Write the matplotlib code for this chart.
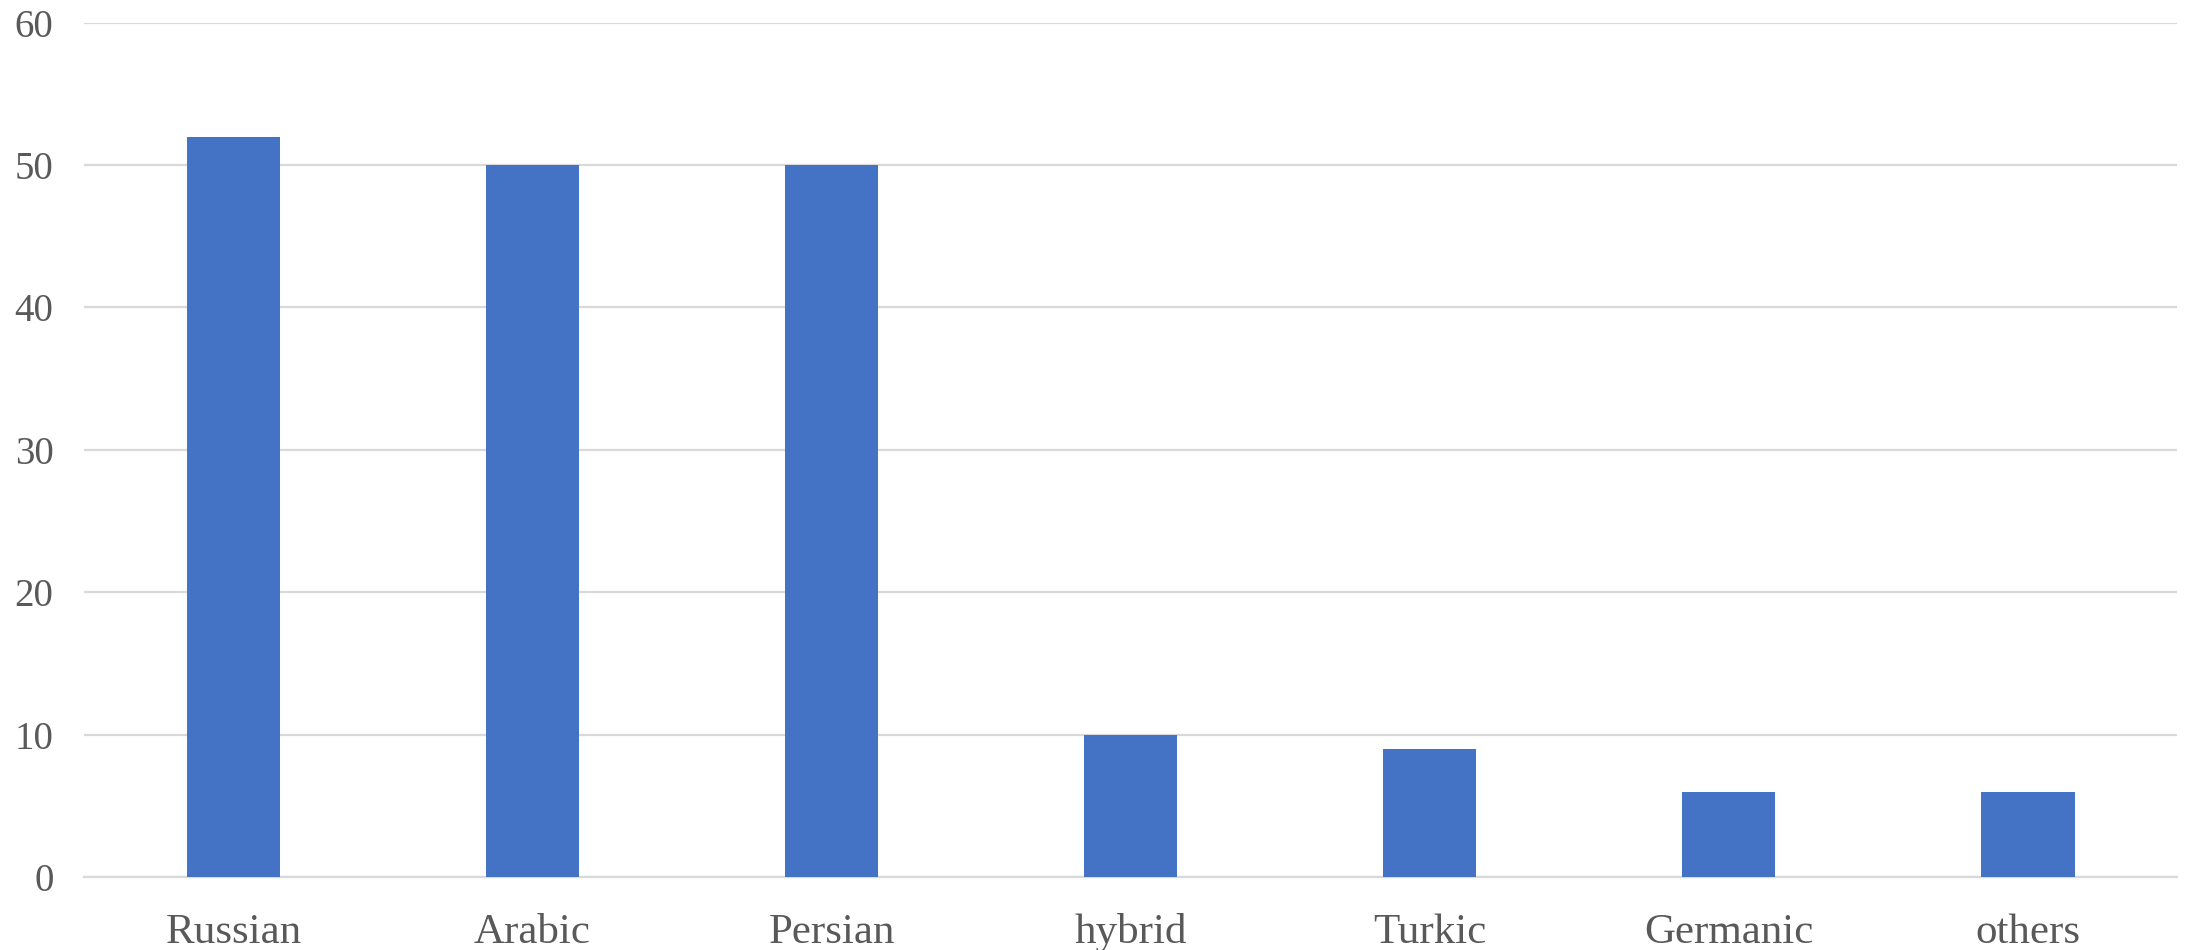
import matplotlib
matplotlib.use("Agg")
import matplotlib.pyplot as plt

categories = ["Russian", "Arabic", "Persian", "hybrid", "Turkic", "Germanic", "others"]
values = [52, 50, 50, 10, 9, 6, 6]
yticks = [0, 10, 20, 30, 40, 50, 60]

plt.rcParams['font.family'] = ['Liberation Serif', 'DejaVu Serif']

fig = plt.figure(figsize=(21.88, 9.5), dpi=100)
ax = fig.add_axes([0.0384, 0.0768, 0.9566, 0.8993])

x = list(range(len(categories)))
ax.bar(x, values, width=0.314, color="#4472C4", zorder=3)

ax.set_xlim(-0.5, len(categories) - 0.5)
ax.set_ylim(0, 60)
ax.set_yticks(yticks)
ax.set_xticks(x)
ax.set_xticklabels(categories)
ax.yaxis.grid(True, color="#D9D9D9", linewidth=1.6, zorder=0)
ax.set_axisbelow(True)
for s in ["top", "right", "left"]:
    ax.spines[s].set_visible(False)
ax.spines["bottom"].set_color("#D9D9D9")
ax.spines["bottom"].set_linewidth(1.6)
ax.tick_params(axis="both", length=0, colors="#595959")
ax.tick_params(axis="y", labelsize=28, pad=22)
ax.tick_params(axis="x", labelsize=31, pad=26)

fig.savefig("out.png", dpi=100)
